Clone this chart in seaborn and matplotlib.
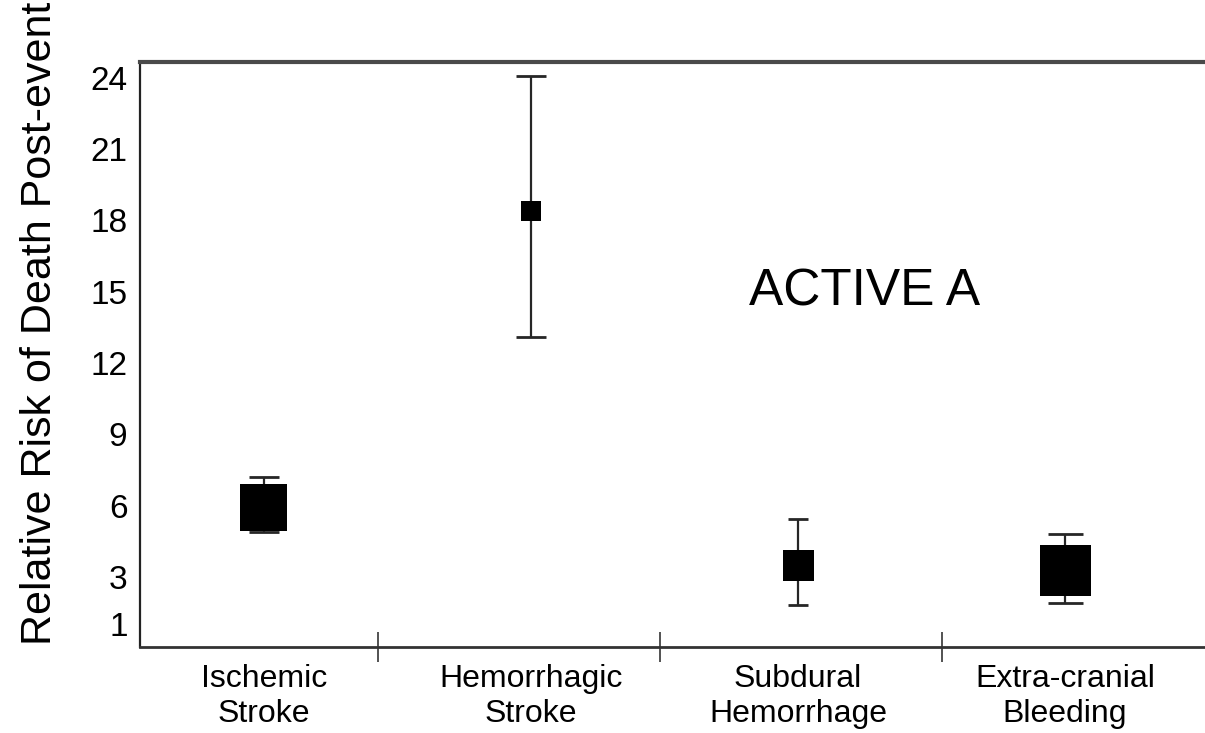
import matplotlib
matplotlib.use("Agg")
import matplotlib.pyplot as plt
import seaborn as sns
import pandas as pd
import numpy as np
from matplotlib.ticker import FixedLocator

# ---- data ----
categories = ["Ischemic\nStroke", "Hemorrhagic\nStroke", "Subdural\nHemorrhage", "Extra-cranial\nBleeding"]
rr = [5.9, 18.4, 3.5, 3.25]
ci_low = [4.9, 13.1, 1.8, 1.9]
ci_high = [7.2, 24.1, 5.45, 4.8]
y_ticks = [1, 3, 6, 9, 12, 15, 18, 21, 24]
annotation = "ACTIVE A"
y_label = "Relative Risk of Death Post-event"

# ---- style (marker side in px, cap half-width in pt) ----
marker_side_px = [47, 20, 31, 51]
cap_pt = [10.8, 10.5, 7.0, 12.6]

sns.set_theme(style="white")
plt.rcParams["font.family"] = ["Liberation Sans", "DejaVu Sans"]

W, H = 1205, 733
fig = plt.figure(figsize=(W / 100, H / 100), dpi=100)
ax = fig.add_axes([140 / W, 1 - 647 / H, 1 - 140 / W, (647 - 62) / H])

pos = np.arange(len(categories))
sizes_s = [(s * 0.72) ** 2 for s in marker_side_px]
df = pd.DataFrame({"pos": pos, "rr": rr, "s": sizes_s})

# error bars
for i in range(len(categories)):
    ax.errorbar([pos[i]], [rr[i]],
                yerr=[[rr[i] - ci_low[i]], [ci_high[i] - rr[i]]],
                fmt="none", ecolor="#262626", elinewidth=1.6,
                capsize=cap_pt[i], capthick=2.0, zorder=2)

sns.scatterplot(data=df, x="pos", y="rr", size="s",
                sizes=(min(sizes_s), max(sizes_s)), size_norm=(min(sizes_s), max(sizes_s)),
                marker="s", color="black", linewidth=0, legend=False, ax=ax, zorder=3)

ax.set_xlim(-0.464, 3.524)
ax.set_ylim(0.05, 24.67)

ax.set_yticks(y_ticks)
ax.set_yticklabels([str(t) for t in y_ticks], fontsize=24)
ax.tick_params(axis="y", length=0, pad=9, colors="black")

ax.set_xticks(pos)
ax.set_xticklabels(categories, fontsize=23, linespacing=1.22)
ax.tick_params(axis="x", which="major", length=0, pad=12, colors="black")
ax.xaxis.set_minor_locator(FixedLocator([0.427, 1.483, 2.539]))
ax.tick_params(axis="x", which="minor", direction="inout", length=21,
               width=1.3, color="#444444", bottom=True)

ax.set_xlabel("")
ax.set_ylabel("")
fig.text(40 / W, 1 - 645 / H, y_label, rotation=90, ha="center", va="bottom",
         fontsize=31, color="black")

for side in ["left", "bottom", "top"]:
    ax.spines[side].set_visible(True)
ax.spines["right"].set_visible(False)
ax.spines["left"].set_color("#222222")
ax.spines["left"].set_linewidth(1.6)
ax.spines["bottom"].set_color("#333333")
ax.spines["bottom"].set_linewidth(2.0)
ax.spines["top"].set_color("#4a4a4a")
ax.spines["top"].set_linewidth(3.0)

ax.text(2.25, 15.0, annotation, fontsize=37, ha="center", va="center", color="black")

fig.savefig("out.png", dpi=100)
